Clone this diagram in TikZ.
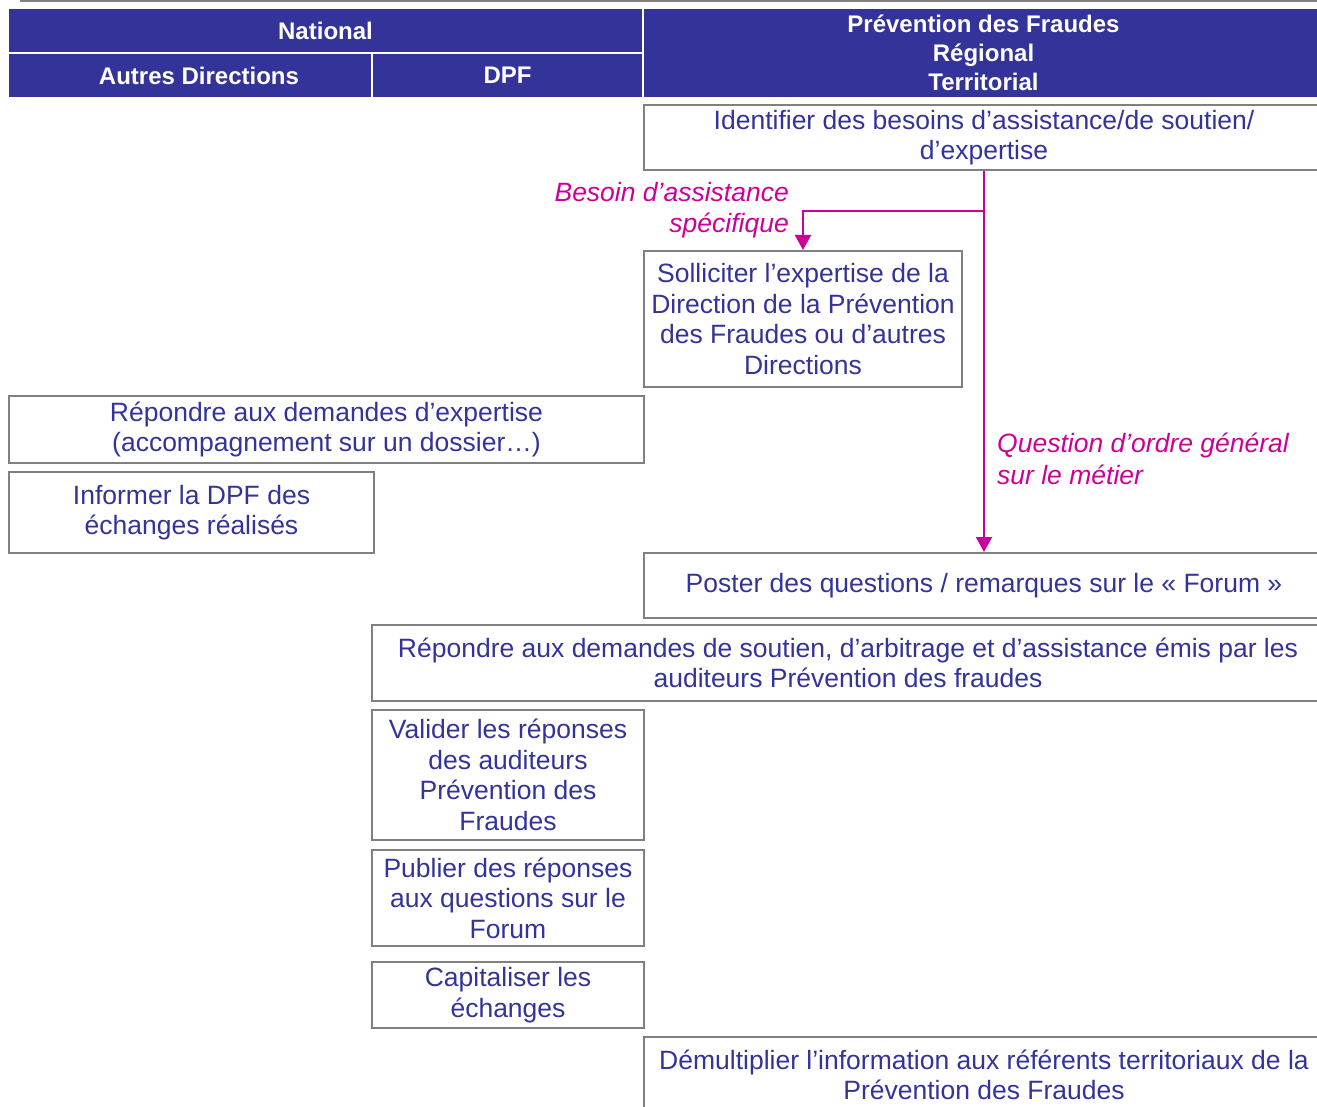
\documentclass[tikz,border=0pt]{standalone}
\usepackage{fontspec}
\setmainfont{Liberation Sans}
\usetikzlibrary{arrows.meta}
\definecolor{hdrblue}{RGB}{51,51,153}
\definecolor{txtblue}{RGB}{51,51,153}
\definecolor{boxgray}{RGB}{128,128,128}
\definecolor{flowmag}{RGB}{204,0,153}
\newcommand{\bodyfont}{\fontsize{26.5}{30.5}\selectfont}
\newcommand{\condfont}{\fontsize{26.5}{31.5}\selectfont\itshape}
\newcommand{\hdrfont}{\fontsize{24}{29}\selectfont\bfseries}
\begin{document}
\begin{tikzpicture}[x=1pt,y=-1pt,
  hdr/.style={fill=hdrblue, text=white, font=\hdrfont, anchor=north west,
    inner sep=0pt, outer sep=0pt, align=center},
  task/.style={draw=boxgray, line width=2pt, fill=white, text=txtblue,
    font=\bodyfont, anchor=north west, inner sep=0pt, align=center},
  flow/.style={draw=flowmag, line width=2pt,
    -{Triangle[width=16pt,length=15pt]}},
  cond/.style={text=flowmag, font=\condfont, inner sep=0pt}]
\useasboundingbox (0,0) rectangle (1317,1107);
\clip (0,0) rectangle (1317,1107);
% rule above the header
\draw[boxgray, line width=2pt] (20,1) -- (1323,1);
% header cells
\node[hdr, minimum width=633pt, minimum height=43pt] (nat) at (9,9) {National};
\node[hdr, minimum width=362pt, minimum height=43pt] (autres) at (9,54) {\hspace*{18pt}Autres Directions};
\node[hdr, minimum width=269pt, minimum height=43pt] (dpf) at (373,54) {DPF};
\node[hdr, minimum width=679pt, minimum height=88pt] (prev) at (644,9)
  {Prévention des Fraudes\\Régional\\Territorial};
% activities
\node[task, minimum width=680pt, minimum height=65pt] (ident) at (643,104)
  {Identifier des besoins d’assistance/de soutien/\\d’expertise};
\node[task, minimum width=318pt, minimum height=136pt] (sollic) at (643,250)
  {Solliciter l’expertise de la\\Direction de la Prévention\\des Fraudes ou d’autres\\Directions};
\node[task, minimum width=635pt, minimum height=67pt] (repexp) at (8,395)
  {Répondre aux demandes d’expertise\\(accompagnement sur un dossier…)};
\node[task, minimum width=365pt, minimum height=81pt] (inform) at (8,471)
  {Informer la DPF des\\échanges réalisés};
\node[task, minimum width=680pt, minimum height=65pt] (poster) at (643,552)
  {Poster des questions / remarques sur le «~Forum~»};
\node[task, minimum width=952pt, minimum height=76pt] (repsout) at (371,624)
  {Répondre aux demandes de soutien, d’arbitrage et d’assistance émis par les\\auditeurs Prévention des fraudes};
\node[task, minimum width=272pt, minimum height=130pt] (valider) at (371,709)
  {Valider les réponses\\des auditeurs\\Prévention des\\Fraudes};
\node[task, minimum width=272pt, minimum height=96pt] (publier) at (371,849)
  {Publier des réponses\\aux questions sur le\\Forum};
\node[task, minimum width=272pt, minimum height=66pt] (capital) at (371,961)
  {Capitaliser les\\échanges};
\node[task, minimum width=680pt, minimum height=76pt] (demult) at (643,1036)
  {Démultiplier l’information aux référents territoriaux de la\\Prévention des Fraudes};
% flows
\coordinate (split) at ([yshift=-40pt]ident.south);
\draw[flow] (ident.south) -- (poster.north);
\draw[flow] (split) -| (sollic.north);
\node[cond, align=right, anchor=east] (lblA) at (789,210)
  {Besoin d’assistance\\spécifique};
\node[cond, align=left, anchor=west] (lblB) at (997,459)
  {Question d’ordre général\\sur le métier};
\end{tikzpicture}
\end{document}
